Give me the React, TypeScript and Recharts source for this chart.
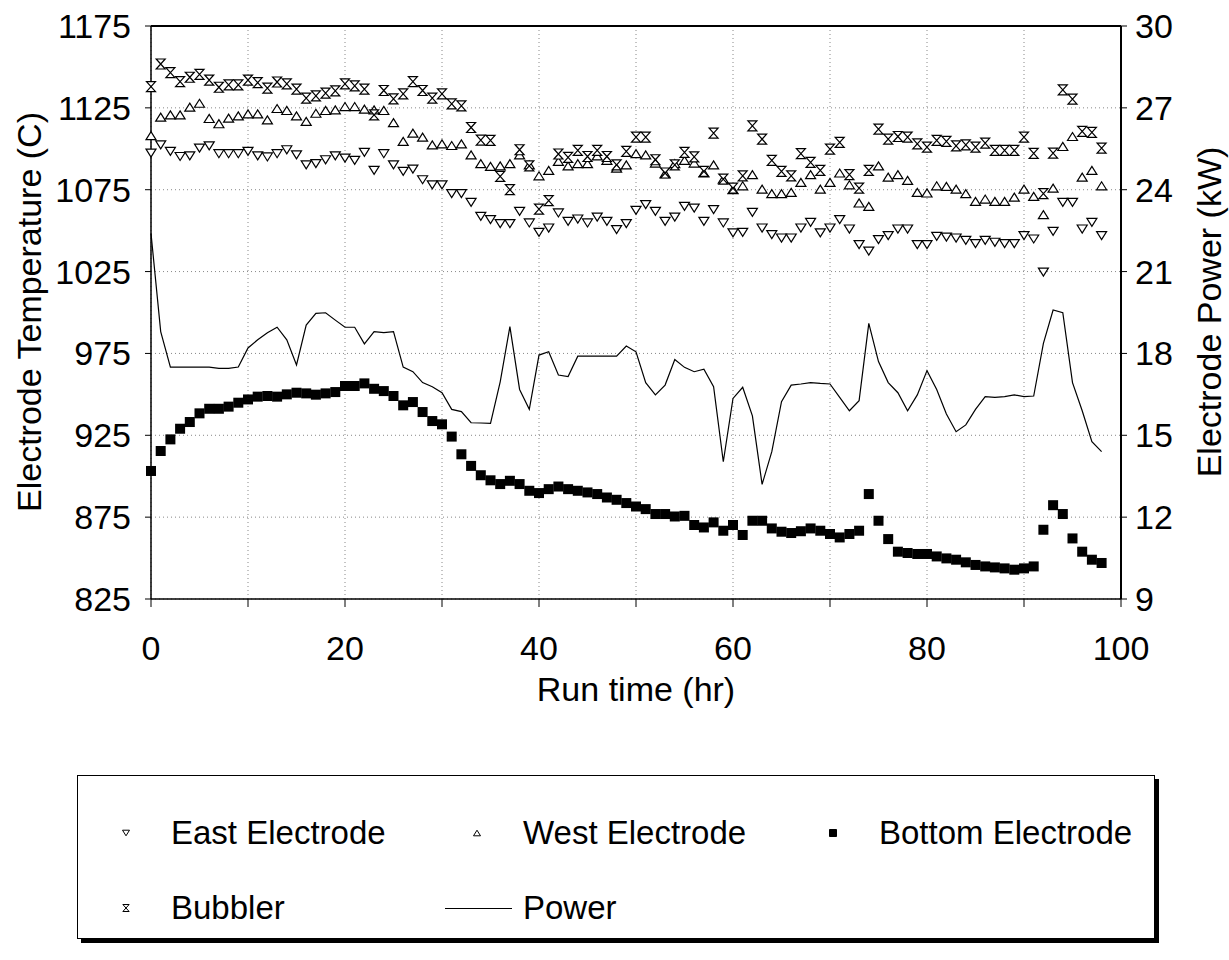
import React from 'react';
import {
  ComposedChart, Scatter, Line,
  XAxis, YAxis, CartesianGrid,
  ReferenceLine, Label
} from 'recharts';

// Run time in hours, one reading per hour
const hours = [
  0, 1, 2, 3, 4, 5, 6, 7, 8, 9, 10, 11, 12, 13, 14, 15, 16, 17, 18, 19,
  20, 21, 22, 23, 24, 25, 26, 27, 28, 29, 30, 31, 32, 33, 34, 35, 36, 37, 38, 39,
  40, 41, 42, 43, 44, 45, 46, 47, 48, 49, 50, 51, 52, 53, 54, 55, 56, 57, 58, 59,
  60, 61, 62, 63, 64, 65, 66, 67, 68, 69, 70, 71, 72, 73, 74, 75, 76, 77, 78, 79,
  80, 81, 82, 83, 84, 85, 86, 87, 88, 89, 90, 91, 92, 93, 94, 95, 96, 97, 98,
];

// Electrode temperatures (C)
const eastTemp = [
  1097.4, 1102.4, 1098.4, 1095.3, 1095.7, 1100.4, 1101.8, 1097, 1097, 1097,
  1098.4, 1095.7, 1095, 1097, 1099.4, 1096.3, 1090.2, 1090.9, 1093.3, 1095.7,
  1094.3, 1092.9, 1097.8, 1086.8, 1097, 1090.2, 1086.2, 1087.6, 1081.1, 1078,
  1078, 1072.6, 1072.6, 1067.3, 1058.7, 1056.7, 1054.3, 1054.3, 1061.8, 1054.7,
  1049, 1051.6, 1060.8, 1055.7, 1057.1, 1054.7, 1058.3, 1055.7, 1050.6, 1054.3,
  1062.4, 1065.9, 1061.8, 1055.7, 1058.3, 1064.8, 1063.8, 1055.7, 1062.8, 1054.7,
  1048.6, 1049, 1061.2, 1051.6, 1047.6, 1045.5, 1045.5, 1051.6, 1055.1, 1048.6,
  1051.6, 1056.7, 1051, 1041.5, 1037.5, 1044.5, 1047, 1051, 1051, 1041.5,
  1041.5, 1046.5, 1046.1, 1045.5, 1044.1, 1042.1, 1044.1, 1042.9, 1042.1, 1042.1,
  1047, 1044.9, 1024.7, 1049.6, 1067.3, 1067.3, 1051, 1055.1, 1047,
];

const westTemp = [
  1108, 1119.3, 1120.7, 1120.7, 1125.4, 1127.8, 1118.5, 1115.3, 1118.7, 1120.1,
  1121.3, 1121.3, 1117.7, 1124.6, 1123.4, 1120.1, 1116.7, 1121.7, 1123.4, 1123.8,
  1125.8, 1125.8, 1124.2, 1123.8, 1123.4, 1116, 1104.5, 1109.6, 1107.1, 1102.4,
  1103, 1102, 1103, 1096.3, 1090.9, 1089.2, 1089.6, 1090.9, 1096.3, 1090.2,
  1083.5, 1086.8, 1092.3, 1089.6, 1090.9, 1090.9, 1095.7, 1092.9, 1088.2, 1090.2,
  1097, 1096.3, 1091.3, 1084.8, 1090.9, 1092.9, 1091.3, 1085.2, 1090.2, 1081.5,
  1075, 1077.4, 1084.2, 1075.4, 1072.6, 1072.6, 1073.4, 1079.5, 1084.2, 1075.4,
  1079.5, 1085.2, 1078, 1066.9, 1064.8, 1089.6, 1082.7, 1084.2, 1080.7, 1073.4,
  1073, 1077.4, 1077, 1075.4, 1072.6, 1067.9, 1069.3, 1067.9, 1067.9, 1070.5,
  1075.4, 1070.9, 1059.8, 1076, 1101.4, 1107.5, 1082.7, 1086.8, 1077.4,
];

const bottomTemp = [
  903.2, 915.4, 922.5, 929, 933.1, 938.4, 941.2, 941.2, 942.5, 944.9,
  946.9, 948.6, 949, 948.6, 950, 951, 950.6, 949.8, 950.6, 951.4,
  955.1, 955.1, 956.7, 953.4, 952, 949, 943.3, 945.3, 939.2, 933.7,
  931.7, 924.2, 913.4, 906.3, 900.6, 897.5, 895.2, 897.2, 895.2, 891.1,
  889.7, 892.1, 893.7, 892.1, 891.1, 890.1, 889.1, 887, 885.6, 883.6,
  881.5, 879.9, 876.9, 876.9, 875.4, 875.8, 870.2, 868.7, 871.8, 866.7,
  870.2, 864.1, 872.8, 872.8, 868.1, 866.1, 865.3, 866.4, 868.1, 866.7,
  864.7, 862.6, 864.7, 866.7, 889.1, 872.8, 861.6, 853.9, 853.1, 852.5,
  852.5, 851, 849.8, 849, 847.4, 845.8, 844.9, 844.3, 843.7, 842.9,
  843.7, 844.9, 867.3, 882.3, 876.9, 862, 853.9, 849, 847,
];

const bubblerTemp = [
  1138, 1151.8, 1146.5, 1141, 1143.7, 1145.5, 1142, 1137.6, 1139, 1139,
  1142, 1140.4, 1137, 1140.8, 1139.6, 1136.4, 1130.9, 1132.3, 1134, 1135.4,
  1139.6, 1138.4, 1136.4, 1120.7, 1135.6, 1130.5, 1133.5, 1141, 1135.6, 1131,
  1133.5, 1127.4, 1126.2, 1113, 1105.3, 1105.1, 1083.1, 1075, 1099.4, 1089.6,
  1063.2, 1068.3, 1096.8, 1094.7, 1099, 1095.3, 1099, 1095.3, 1090.2, 1098.4,
  1107.1, 1107.1, 1093.3, 1085.2, 1090.2, 1097.8, 1095, 1086.2, 1109.6, 1081.5,
  1076, 1083.5, 1114, 1105.9, 1092.9, 1086.2, 1083.5, 1097, 1091.7, 1086.8,
  1099.8, 1103.9, 1084.2, 1076, 1086.8, 1112, 1105.9, 1107.5, 1107.1, 1103,
  1101, 1105.1, 1104.5, 1101.8, 1102.4, 1101, 1103.5, 1099, 1099, 1099,
  1107.1, 1097.2, 1072.6, 1097.4, 1136, 1130.3, 1110.6, 1110, 1100.4,
];

// Electrode power (kW), right axis
const powerKw = [
  22.4, 18.8, 17.5, 17.5, 17.5, 17.5, 17.5, 17.45, 17.45, 17.5,
  18.2, 18.5, 18.76, 18.96, 18.5, 17.58, 19.04, 19.47, 19.49, 19.22,
  18.96, 18.96, 18.35, 18.8, 18.76, 18.8, 17.5, 17.33, 16.93, 16.78,
  16.56, 15.95, 15.87, 15.46, 15.45, 15.44, 16.96, 18.98, 16.68, 15.95,
  17.94, 18.06, 17.21, 17.15, 17.9, 17.9, 17.9, 17.9, 17.9, 18.27,
  18.06, 16.93, 16.48, 16.84, 17.78, 17.49, 17.33, 17.42, 16.78, 14.03,
  16.35, 16.76, 15.71, 13.2, 14.4, 16.23, 16.84, 16.88, 16.93, 16.9,
  16.88, 16.39, 15.9, 16.27, 19.1, 17.7, 16.93, 16.56, 15.9, 16.48,
  17.37, 16.68, 15.78, 15.13, 15.38, 15.95, 16.42, 16.39, 16.42, 16.48,
  16.42, 16.44, 18.37, 19.59, 19.49, 16.93, 15.9, 14.77, 14.4,
];

const xTicks = [0, 10, 20, 30, 40, 50, 60, 70, 80, 90, 100];
const tempTicks = [825, 875, 925, 975, 1025, 1075, 1125, 1175];
const powerTicks = [9, 12, 15, 18, 21, 24, 27, 30];

const rows = hours.map((t, i) => ({
  t,
  east: eastTemp[i],
  west: westTemp[i],
  bottom: bottomTemp[i],
  bubbler: bubblerTemp[i],
  power: powerKw[i],
}));

const FONT = '"Liberation Sans", Arial, Helvetica, sans-serif';

// marker shapes, drawn around (cx, cy)
const downTri = (cx: number, cy: number, s = 1) =>
  `M${cx - 5 * s},${cy - 4 * s}L${cx + 5 * s},${cy - 4 * s}L${cx},${cy + 4 * s}Z`;
const upTri = (cx: number, cy: number, s = 1) =>
  `M${cx - 5 * s},${cy + 4 * s}L${cx + 5 * s},${cy + 4 * s}L${cx},${cy - 4 * s}Z`;
const hourglass = (cx: number, cy: number, s = 1) =>
  `M${cx - 4.5 * s},${cy - 5 * s}L${cx + 4.5 * s},${cy - 5 * s}L${cx - 4.5 * s},${cy + 5 * s}L${cx + 4.5 * s},${cy + 5 * s}Z`;

const DownShape = (p: any) =>
  p.cx == null ? null : <path d={downTri(p.cx, p.cy)} fill="#fff" stroke="#000" strokeWidth={1.2} />;
const UpShape = (p: any) =>
  p.cx == null ? null : <path d={upTri(p.cx, p.cy)} fill="#fff" stroke="#000" strokeWidth={1.2} />;
const SquareShape = (p: any) =>
  p.cx == null ? null : <rect x={p.cx - 5} y={p.cy - 5} width={10} height={10} fill="#000" />;
const HourglassShape = (p: any) =>
  p.cx == null ? null : <path d={hourglass(p.cx, p.cy)} fill="#fff" stroke="#000" strokeWidth={1.2} />;

const tickStyle = { fontSize: 34, fill: '#000', fontFamily: FONT };

function LegendBox() {
  const text = { position: 'absolute' as const, fontFamily: FONT, fontSize: 33, lineHeight: '36px', color: '#000' };
  const mark = (d: string, fill: string, x: number, y: number) => (
    <svg style={{ position: 'absolute', left: x - 8, top: y - 8 }} width={16} height={16}>
      <path d={d} fill={fill} stroke="#000" strokeWidth={1} />
    </svg>
  );
  return (
    <div style={{
      position: 'absolute', left: 77, top: 775, width: 1076, height: 162,
      border: '1px solid #000', boxShadow: '4px 4px 0 #000', background: '#fff',
    }}>
      {mark(downTri(8, 8, 0.7), '#fff', 48, 57)}
      <span style={{ ...text, left: 93, top: 39 }}>East Electrode</span>
      {mark(upTri(8, 8, 0.7), '#fff', 399, 57)}
      <span style={{ ...text, left: 445, top: 39 }}>West Electrode</span>
      {mark('M4.5,4.5H11.5V11.5H4.5Z', '#000', 755, 57)}
      <span style={{ ...text, left: 801, top: 39 }}>Bottom Electrode</span>
      {mark(hourglass(8, 8, 0.7), '#fff', 48, 132)}
      <span style={{ ...text, left: 93, top: 114 }}>Bubbler</span>
      <div style={{ position: 'absolute', left: 367, top: 132, width: 67, height: 1, background: '#000' }} />
      <span style={{ ...text, left: 445, top: 114 }}>Power</span>
    </div>
  );
}

export default function App() {
  return (
    <div style={{ position: 'absolute', left: 0, top: 0, width: 1229, height: 960, background: '#fff' }}>
      <ComposedChart
        width={1229}
        height={740}
        data={rows}
        margin={{ top: 26, right: 0, bottom: 0, left: 0 }}
      >
        <CartesianGrid yAxisId="left" stroke="#888" strokeDasharray="1 3" />
        <XAxis
          dataKey="t"
          type="number"
          domain={[0, 100]}
          ticks={xTicks}
          tickFormatter={(v: number) => (v % 20 === 0 ? String(v) : '')}
          height={141}
          tickSize={8}
          tickMargin={29}
          tick={tickStyle}
          axisLine={{ stroke: '#000', strokeWidth: 1.5 }}
          tickLine={{ stroke: '#000' }}
        >
          <Label
            content={() => (
              <text x={636} y={701} textAnchor="middle" fontFamily={FONT} fontSize={34} fill="#000">
                Run time (hr)
              </text>
            )}
          />
        </XAxis>
        <YAxis
          yAxisId="left"
          type="number"
          domain={[825, 1175]}
          ticks={tempTicks}
          width={151}
          tickSize={6}
          tickMargin={14}
          tick={tickStyle}
          allowDataOverflow
          axisLine={{ stroke: '#000', strokeWidth: 1.5 }}
          tickLine={{ stroke: '#000' }}
        >
          <Label
            content={() => (
              <text
                x={29} y={312} transform="rotate(-90 29 312)"
                textAnchor="middle" dominantBaseline="central"
                fontFamily={FONT} fontSize={34} fill="#000"
              >
                Electrode Temperature (C)
              </text>
            )}
          />
        </YAxis>
        <YAxis
          yAxisId="right"
          orientation="right"
          type="number"
          domain={[9, 30]}
          ticks={powerTicks}
          width={108}
          tickSize={6}
          tickMargin={8}
          tick={tickStyle}
          allowDataOverflow
          axisLine={{ stroke: '#000', strokeWidth: 2 }}
          tickLine={{ stroke: '#000' }}
        >
          <Label
            content={() => (
              <text
                x={1209} y={312} transform="rotate(-90 1209 312)"
                textAnchor="middle" dominantBaseline="central"
                fontFamily={FONT} fontSize={34} fill="#000"
              >
                Electrode Power (kW)
              </text>
            )}
          />
        </YAxis>
        <ReferenceLine yAxisId="left" y={1175} stroke="#000" strokeWidth={2} />
        <Line
          yAxisId="right"
          dataKey="power"
          type="linear"
          stroke="#000"
          strokeWidth={1.2}
          dot={false}
          isAnimationActive={false}
        />
        <Scatter yAxisId="left" dataKey="bottom" shape={SquareShape} isAnimationActive={false} />
        <Scatter yAxisId="left" dataKey="east" shape={DownShape} isAnimationActive={false} />
        <Scatter yAxisId="left" dataKey="west" shape={UpShape} isAnimationActive={false} />
        <Scatter yAxisId="left" dataKey="bubbler" shape={HourglassShape} isAnimationActive={false} />
      </ComposedChart>
      <LegendBox />
    </div>
  );
}
